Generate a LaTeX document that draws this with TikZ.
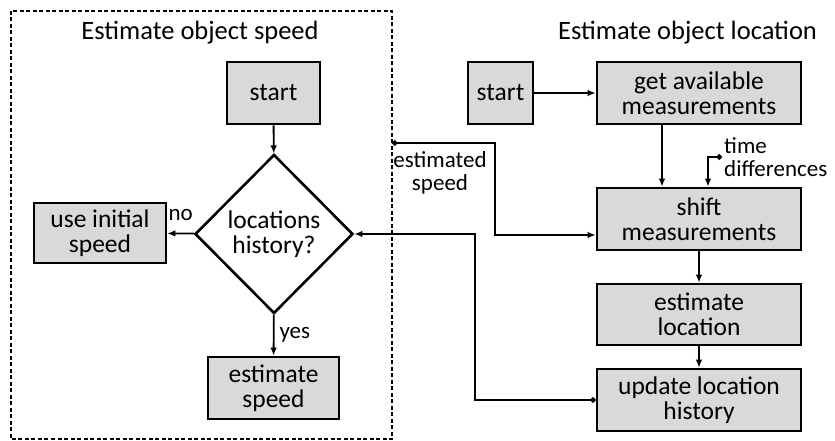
\documentclass[tikz,border=0pt]{standalone}
\usepackage{fontspec}
\setmainfont{Carlito}
\usetikzlibrary{shapes.geometric,arrows.meta,positioning}
\begin{document}
\begin{tikzpicture}[x=1pt,y=-1pt]
        \tikzset{flow box/.style={draw,line width=2.6pt,fill=black!15,minimum width=#1,minimum height=62pt,inner sep=0pt,align=center,font=\fontsize{25.5}{25}\selectfont},
                 flow/.style={line width=1.8pt,-{Latex[length=8pt,width=6.5pt]}},
                 dot/.style={{Circle[length=5.5pt]}-{Latex[length=8pt,width=6.5pt]}},
                 small label/.style={inner sep=0pt,font=\fontsize{23}{23.5}\selectfont}}

        \useasboundingbox (0,0) rectangle (835,441);
        \draw[line width=1.4pt,dash pattern=on 4pt off 2.5pt] (11,11) rectangle (392,439);

        % Estimate object speed
        \node[font=\fontsize{26.5}{26}\selectfont] (speed title) at (200,33) {Estimate object speed};
        \node[flow box=93pt] (start1) at (273.5,93) {start};
        \node[diamond,draw,line width=2.6pt,minimum width=158pt,minimum height=159pt,inner sep=0pt,align=center,font=\fontsize{25.5}{25}\selectfont] (history) at (274,234) {locations\\history?};
        \node[flow box=132pt,minimum height=60pt] (initial) at (100,233) {use initial\\speed};
        \node[flow box=131pt] (est speed) at (273.5,388) {estimate\\speed};

        % Estimate object location
        \node[font=\fontsize{26.5}{26}\selectfont] (location title) at (687.5,33) {Estimate object location};
        \node[flow box=65pt] (start2) at (500.5,93) {start};
        \node[flow box=204pt] (get) at (699,93) {get available\\measurements};
        \node[flow box=204pt] (shift) at (699,219) {shift\\measurements};
        \node[flow box=204pt,minimum height=61pt] (est loc) at (699,314.5) {estimate\\location};
        \node[flow box=204pt] (update) at (699,400) {update location\\history};

        \coordinate (speed in) at (392,143);
        \coordinate (time in) at (722,157);
        \node[small label,align=center,anchor=north] (speed label) at (440,151) {estimated\\speed};
        \node[small label,align=left,anchor=west] (time label) at (724,157) {time\\differences};

        \draw[flow] (start1) -- (history);
        \draw[flow] (history) -- node[small label,above=12pt] {no} (initial);
        \draw[flow] (history) -- node[small label,right=5pt] {yes} (est speed);
        \draw[flow] (start2) -- (get);
        \draw[flow] ([xshift=-37pt]get.south) -- ([xshift=-37pt]shift.north);
        \draw[flow] (shift) -- (est loc);
        \draw[flow] (est loc) -- (update);
        \draw[flow,dot] (time in) -| ([xshift=9pt]shift.north);
        \draw[flow,dot] (speed in) -- ++(103,0) |- ([yshift=-16pt]shift.west);
        \draw[flow,dot] (update.west) -- ++(-121,0) |- (history.east);
\end{tikzpicture}
\end{document}
